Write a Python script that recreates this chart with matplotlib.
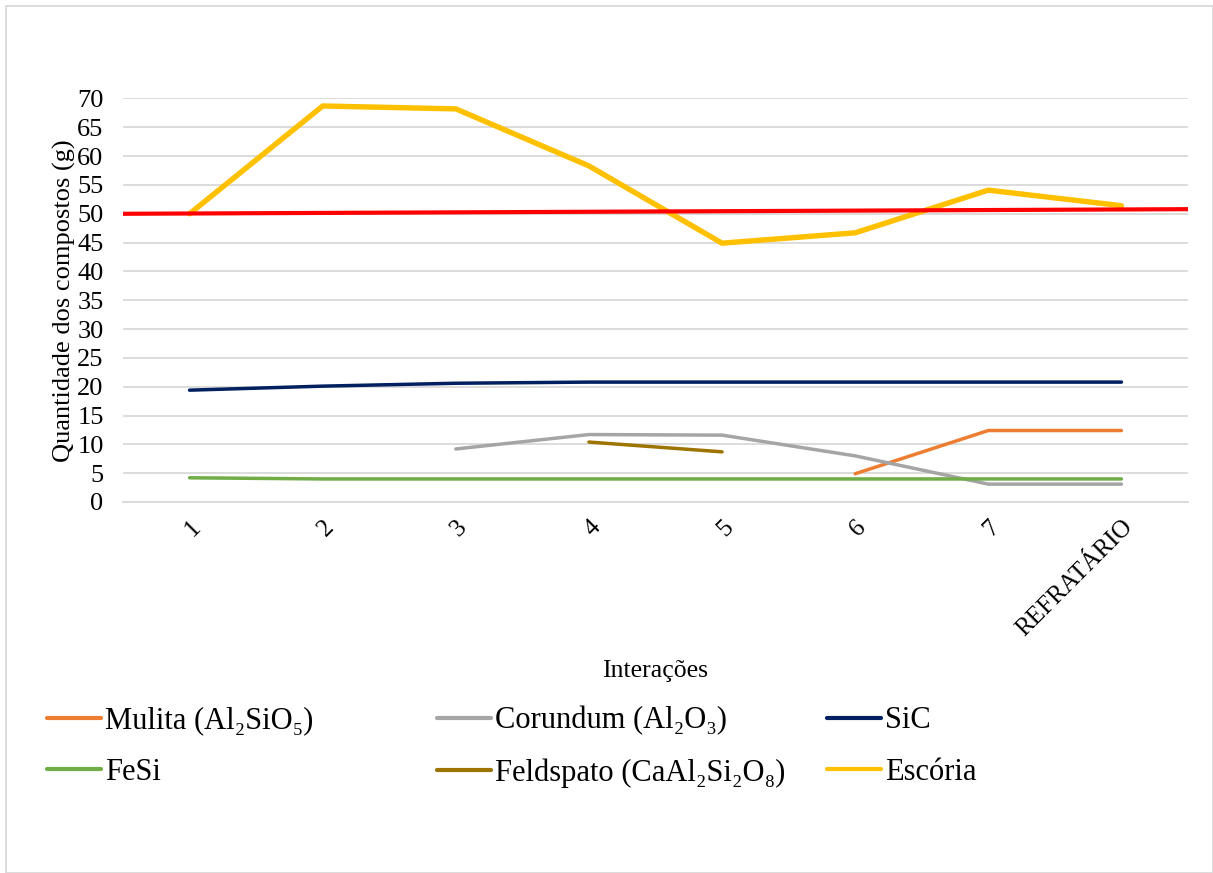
import matplotlib
matplotlib.use("Agg")
import matplotlib.pyplot as plt
from matplotlib.patches import Rectangle

plt.rcParams['font.family'] = ['Liberation Serif', 'DejaVu Serif']

# Iterations on the category axis
categories = ["1", "2", "3", "4", "5", "6", "7", "REFRATÁRIO"]

# Compound quantities (g) per iteration; None = compound absent
mulita = [None, None, None, None, None, 4.9, 12.4, 12.4]
corundum = [None, None, 9.2, 11.7, 11.6, 8.0, 3.1, 3.1]
sic = [19.4, 20.1, 20.6, 20.8, 20.8, 20.8, 20.8, 20.8]
fesi = [4.2, 4.0, 4.0, 4.0, 4.0, 4.0, 4.0, 4.0]
feldspato = [None, None, None, 10.4, 8.7, None, None, None]
escoria = [50.0, 68.7, 68.2, 58.3, 44.9, 46.7, 54.1, 51.4]

# Reference line spanning the full plot width (start, end values)
reference_line = [50.0, 50.8]

series = [
    ("Mulita (Al₂SiO₅)", mulita, "#ED7D31", 2.5),
    ("Corundum (Al₂O₃)", corundum, "#A5A5A5", 2.5),
    ("SiC", sic, "#002060", 2.5),
    ("FeSi", fesi, "#70AD47", 2.5),
    ("Feldspato (CaAl₂Si₂O₈)", feldspato, "#9E7400", 2.5),
    ("Escória", escoria, "#FFC000", 3.9),
]

fig = plt.figure(figsize=(12.13, 8.73), dpi=100)
ax = fig.add_axes([123 / 1213, 1 - 502 / 873, (1188 - 123) / 1213, (502 - 98.5) / 873])

x = list(range(len(categories)))
ax.plot([-0.5, len(categories) - 0.5], reference_line, color="#FF0000", lw=3.0,
        solid_capstyle="butt", zorder=3)

handles = {}
for name, vals, color, lw in series:
    xs = [xi for xi, v in zip(x, vals) if v is not None]
    ys = [v for v in vals if v is not None]
    ln, = ax.plot(xs, ys, color=color, lw=lw, solid_capstyle="round",
                  solid_joinstyle="round", zorder=4 if name != "Escória" else 2)
    handles[name] = ln

ax.set_xlim(-0.5, len(categories) - 0.5)
ax.set_ylim(0, 70)
ax.set_yticks(range(0, 71, 5))
ax.set_xticks(x)
ax.set_xticklabels(categories, rotation=45, ha="right", rotation_mode="anchor")
ax.tick_params(axis="y", length=0, pad=14, labelsize=19)
ax.tick_params(axis="x", length=0, pad=10, labelsize=18)

ax.grid(axis="y", color="#D9D9D9", lw=1.3, zorder=0)
ax.set_axisbelow(True)
for s in ["top", "right", "left"]:
    ax.spines[s].set_visible(False)
ax.spines["bottom"].set_color("#D9D9D9")
ax.spines["bottom"].set_linewidth(1.3)

ax.set_ylabel("Quantidade dos compostos (g)", fontsize=19, labelpad=1)
ax.set_xlabel("Interações", fontsize=18.5, labelpad=13.5)

# Legend: three columns of two entries each
columns = [("Mulita (Al₂SiO₅)", "FeSi"),
           ("Corundum (Al₂O₃)", "Feldspato (CaAl₂Si₂O₈)"),
           ("SiC", "Escória")]
col_x = [35 / 1213, 425 / 1213, 815 / 1213]
for cx, names in zip(col_x, columns):
    leg = fig.legend([handles[n] for n in names], list(names),
                     loc="upper left", bbox_to_anchor=(cx, 1 - 694 / 873),
                     frameon=False, fontsize=22, handlelength=1.75,
                     handletextpad=0.15, labelspacing=0.75, borderaxespad=0)
    for h in leg.legend_handles:
        h.set_linewidth(3.0)
        h.set_solid_capstyle("round")

fig.patches.append(Rectangle((6 / 1213, 0), 1 - 6 / 1213, 1 - 6 / 873,
                             transform=fig.transFigure, fill=False,
                             edgecolor="#D9D9D9", lw=1.3))

fig.savefig("out.png", dpi=100)
